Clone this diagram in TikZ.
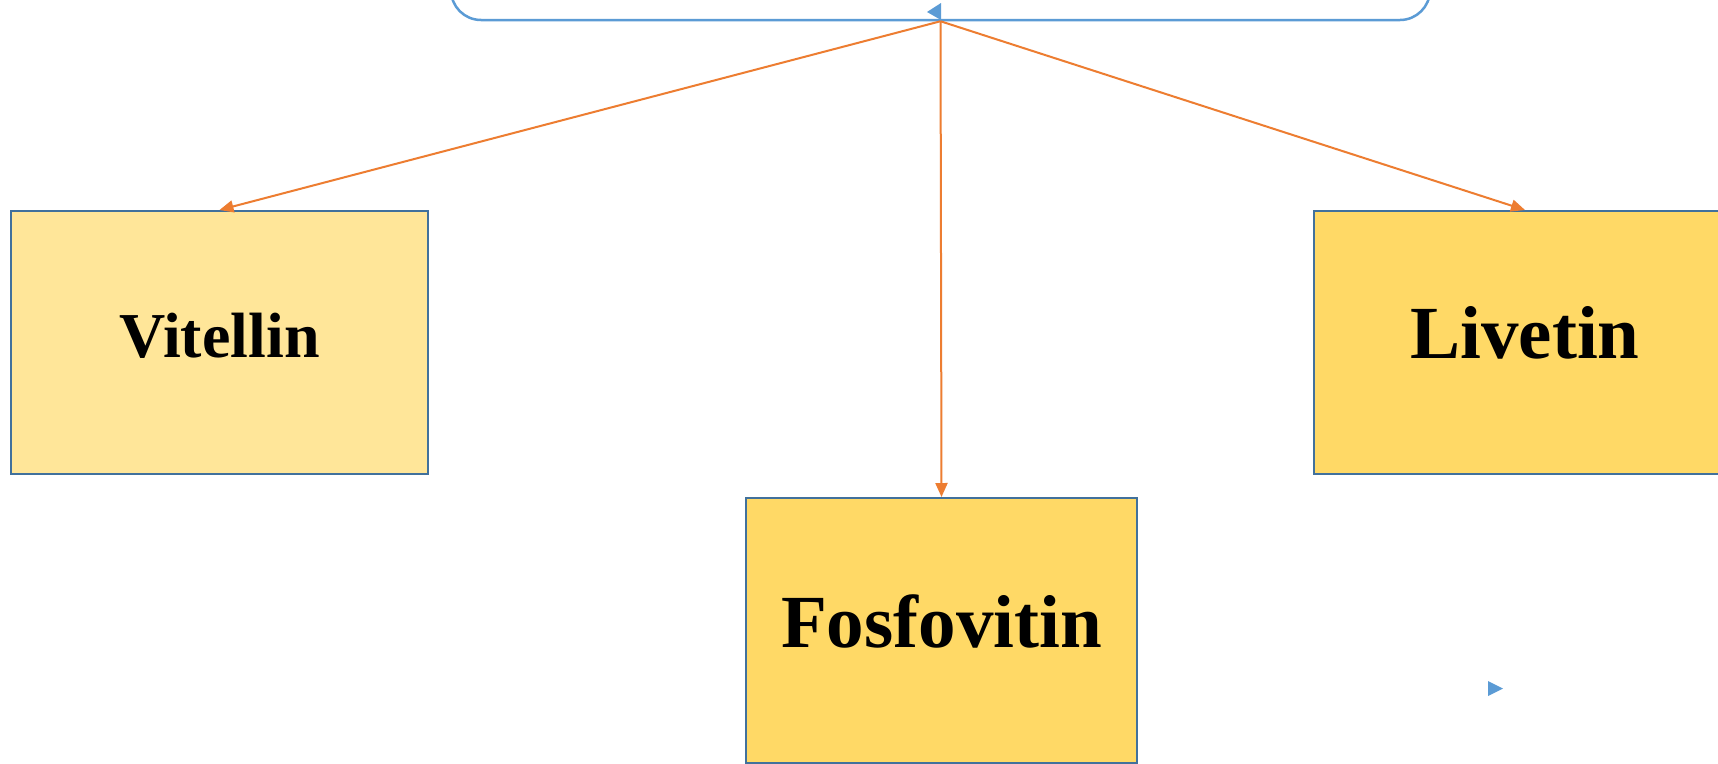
\documentclass[tikz,border=0pt]{standalone}
\usepackage{fontspec}
\setmainfont{Liberation Serif}
\usetikzlibrary{arrows.meta}
\definecolor{accentblue}{HTML}{5B9BD5}
\definecolor{boxline}{HTML}{41719C}
\definecolor{orangeline}{HTML}{ED7D31}
\definecolor{goldpale}{HTML}{FFE699}
\definecolor{goldlight}{HTML}{FFD966}
\tikzset{
  protbox/.style={draw=boxline, line width=2pt, rectangle, inner sep=0pt, align=center},
  bigtext/.style={font=\bfseries\fontsize{75}{80}\selectfont},
  midtext/.style={font=\bfseries\fontsize{64}{70}\selectfont},
  conn/.style={draw=orangeline, line width=2pt, -{Triangle[length=14pt,width=12pt]}},
  srcbox/.style={draw=accentblue, line width=2.5pt, rectangle, rounded corners=30pt, inner sep=0pt},
  marker/.style={fill=accentblue, draw=none}
}
\begin{document}
\begin{tikzpicture}[x=1pt,y=-1pt]
  \useasboundingbox (0,0) rectangle (1718,763);
  \clip (0,0) rectangle (1718,763);
  \fill[white] (0,0) rectangle (1718,763);

  % source box, mostly above the top edge
  \node[srcbox, minimum width=979pt, minimum height=130pt] (src) at (940.5,-45) {};

  % protein fractions
  \node[protbox, fill=goldpale, minimum width=417pt, minimum height=263pt, midtext, text depth=14pt] (vit) at (219.5,342.5) {Vitellin};
  \node[protbox, fill=goldlight, minimum width=422pt, minimum height=263pt, bigtext, text depth=21pt] (liv) at (1525,342.5) {Livetin};
  \node[protbox, fill=goldlight, minimum width=391pt, minimum height=265pt, bigtext, text depth=19pt] (fos) at (941.5,630.5) {Fosfovitin};

  % connectors
  \draw[conn] (src.south) -- (vit.north);
  \draw[conn] (src.south) -- (fos.north);
  \draw[conn] (src.south) -- (liv.north);

  % small blue markers
  \path[marker] (941,3) -- (927,12) -- (941,20) -- cycle;
  \path[marker] (1488,681) -- (1503,688.5) -- (1488,696) -- cycle;
\end{tikzpicture}
\end{document}
